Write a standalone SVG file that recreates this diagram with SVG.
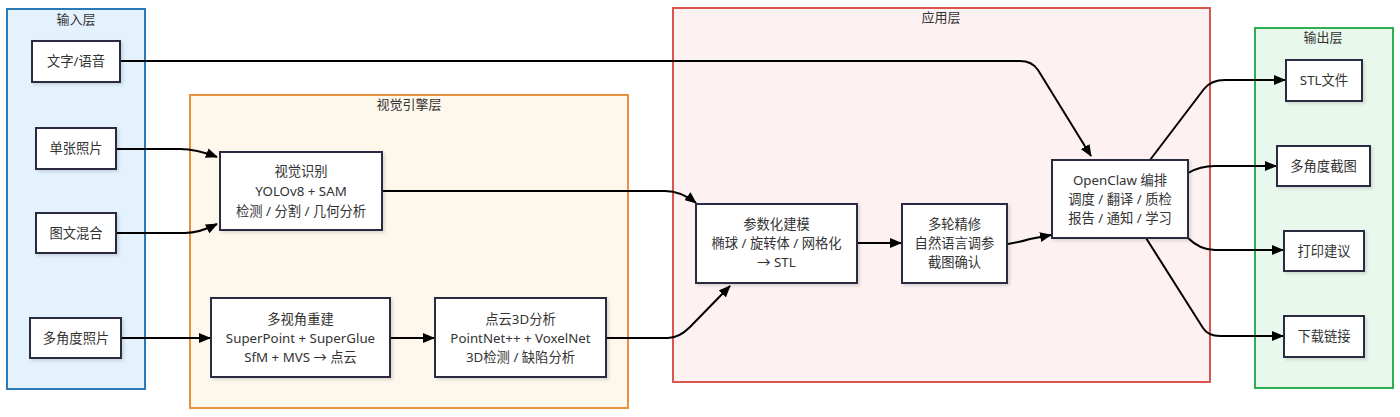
<svg xmlns="http://www.w3.org/2000/svg" width="1400" height="417" viewBox="0 0 1400 417">
<style>
text{font-family:"Noto Sans","Noto Sans CJK SC",sans-serif;font-size:13.3px;fill:#333;text-anchor:middle;dominant-baseline:central}
.node rect{fill:#fff;stroke:#2b2b42;stroke-width:2;filter:url(#sh)}
.edge{fill:none;stroke:#000;stroke-width:2;marker-end:url(#arr)}
.title{font-size:13px;fill:#333}
</style>
<defs>
<filter id="sh" x="-10%" y="-10%" width="130%" height="130%">
<feDropShadow dx="2" dy="2" stdDeviation="1.5" flood-color="#000" flood-opacity="0.12"/>
</filter>
<marker id="arr" viewBox="0 0 12 10" refX="11" refY="5" markerWidth="12" markerHeight="10" markerUnits="userSpaceOnUse" orient="auto">
<path d="M0,0 L12,5 L0,10 z" fill="#000"/>
</marker>
</defs>
<rect width="1400" height="417" fill="#fff"/>
<g id="layer-input">
<rect x="7" y="9" width="138" height="380" fill="#e3f2fd" stroke="#2a7ab8" stroke-width="2"/>
<text class="title" x="76" y="19">输入层</text>
</g>
<g id="layer-vision">
<rect x="190" y="95" width="438" height="313" fill="#fdf7ec" stroke="#e8913e" stroke-width="2"/>
<text class="title" x="409" y="104">视觉引擎层</text>
</g>
<g id="layer-app">
<rect x="673" y="8" width="537" height="374" fill="#fdf1f1" stroke="#d9574e" stroke-width="2"/>
<text class="title" x="941" y="17">应用层</text>
</g>
<g id="layer-output">
<rect x="1255" y="28" width="138" height="360" fill="#e9f8ec" stroke="#2fae55" stroke-width="2"/>
<text class="title" x="1323" y="37">输出层</text>
</g>
<g id="connectors">
<path class="edge" d="M120,61 L1020,61 Q1032,61 1038,70 L1091,156"/>
<path class="edge" d="M116,149 L180,149 Q196,149 217,157"/>
<path class="edge" d="M116,233 L185,233 Q199,233 217,224"/>
<path class="edge" d="M121,338 L210,338"/>
<path class="edge" d="M382,191 L665,191 Q681,191 696,203"/>
<path class="edge" d="M390,338 L434,338"/>
<path class="edge" d="M606,338 L668,338 Q679,338 690,327 L730,286"/>
<path class="edge" d="M857,243 L901,243"/>
<path class="edge" d="M1008,244 Q1020,242 1030,239 L1051,235"/>
<path class="edge" d="M1150,160 L1204,89 Q1211,80 1225,80 L1285,80"/>
<path class="edge" d="M1188,173 Q1200,166 1215,166 L1276,166"/>
<path class="edge" d="M1188,238 Q1200,250 1215,250 L1283,250"/>
<path class="edge" d="M1146,238 L1203,328 Q1208,336 1220,336 L1283,336"/>
</g>
<g id="n-text" class="node"><rect x="32" y="41" width="88" height="41"/><text x="76" y="61">文字/语音</text></g>
<g id="n-photo" class="node"><rect x="36" y="128" width="80" height="41"/><text x="76" y="148">单张照片</text></g>
<g id="n-mixed" class="node"><rect x="36" y="213" width="80" height="40"/><text x="76" y="233">图文混合</text></g>
<g id="n-multi" class="node"><rect x="30" y="318" width="91" height="40"/><text x="76" y="338">多角度照片</text></g>
<g id="n-vision" class="node"><rect x="220" y="152" width="162" height="78"/>
<text x="301" y="171">视觉识别</text><text x="301" y="191">YOLOv8 + SAM</text><text x="301" y="211">检测 / 分割 / 几何分析</text></g>
<g id="n-recon" class="node"><rect x="211" y="298" width="179" height="79"/>
<text x="300.5" y="319">多视角重建</text><text x="300.5" y="338">SuperPoint + SuperGlue</text><text x="300.5" y="357">SfM + MVS → 点云</text></g>
<g id="n-pc" class="node"><rect x="435" y="298" width="171" height="79"/>
<text x="520.5" y="319">点云3D分析</text><text x="520.5" y="338">PointNet++ + VoxelNet</text><text x="520.5" y="357">3D检测 / 缺陷分析</text></g>
<g id="n-param" class="node"><rect x="696" y="204" width="161" height="79"/>
<text x="776.5" y="224">参数化建模</text><text x="776.5" y="243">椭球 / 旋转体 / 网格化</text><text x="776.5" y="262">→ STL</text></g>
<g id="n-refine" class="node"><rect x="902" y="204" width="105" height="79"/>
<text x="954.5" y="224">多轮精修</text><text x="954.5" y="243">自然语言调参</text><text x="954.5" y="262">截图确认</text></g>
<g id="n-openclaw" class="node"><rect x="1052" y="160" width="136" height="78"/>
<text x="1120" y="180">OpenClaw 编排</text><text x="1120" y="199">调度 / 翻译 / 质检</text><text x="1120" y="218">报告 / 通知 / 学习</text></g>
<g id="n-stl" class="node"><rect x="1286" y="60" width="76" height="41"/><text x="1324" y="80">STL文件</text></g>
<g id="n-shots" class="node"><rect x="1277" y="146" width="93" height="40"/><text x="1323.5" y="166">多角度截图</text></g>
<g id="n-print" class="node"><rect x="1284" y="231" width="80" height="40"/><text x="1324" y="251">打印建议</text></g>
<g id="n-dl" class="node"><rect x="1284" y="316" width="80" height="41"/><text x="1324" y="336">下载链接</text></g>
</svg>
